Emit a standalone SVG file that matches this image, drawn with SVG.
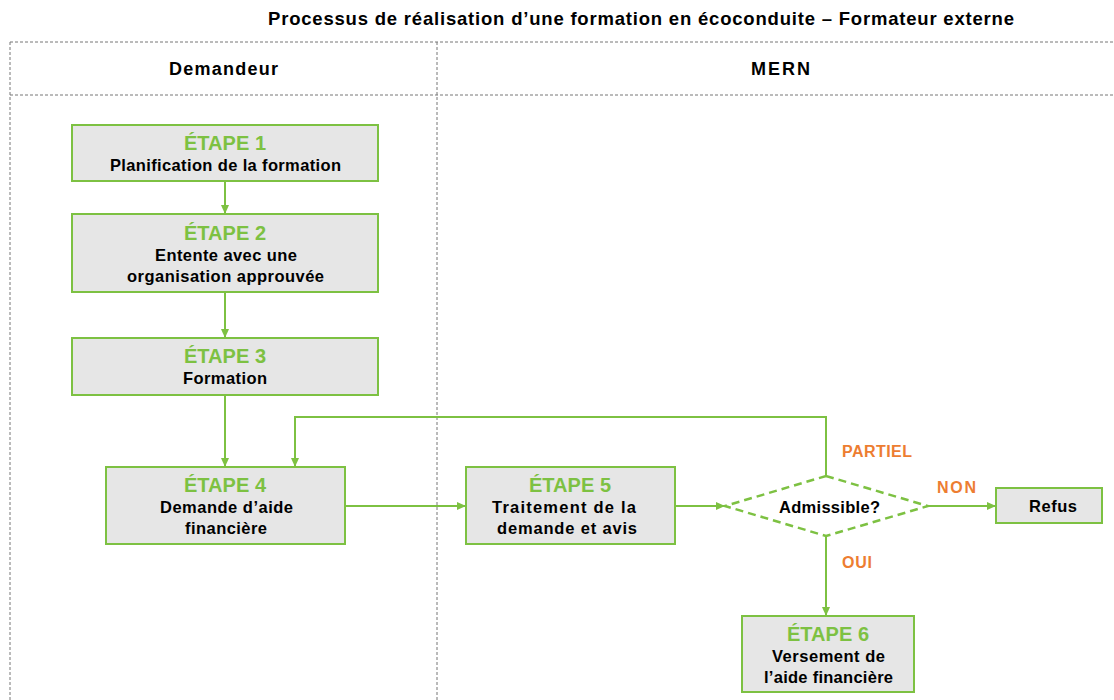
<svg xmlns="http://www.w3.org/2000/svg" width="1114" height="700" viewBox="0 0 1114 700">
<defs>
<style>
.frame{fill:none;stroke:#777;stroke-width:1;stroke-dasharray:3,2}
.box{fill:#e6e6e6;stroke:#7dc142;stroke-width:2}
.dia{fill:#fff;stroke:#7dc142;stroke-width:2.5;stroke-dasharray:8,5}
.con{fill:none;stroke:#7dc142;stroke-width:2}
text{font-family:"Liberation Sans",Arial,sans-serif;font-weight:bold;text-anchor:middle}
.t{font-size:18.5px;fill:#000}
.h{font-size:18px;fill:#000}
.s{font-size:20px;fill:#7dc142}
.b{font-size:16.5px;fill:#000}
.o{font-size:16px;fill:#ed7d31}
</style>
<marker id="ah" markerWidth="10" markerHeight="10" refX="8" refY="5" orient="auto" markerUnits="userSpaceOnUse">
<path d="M0,1 L9,5 L0,9 Z" fill="#7dc142"/>
</marker>
</defs>
<rect width="1114" height="700" fill="#fff"/>
<text class="t" x="641" y="25" textLength="746" lengthAdjust="spacing">Processus de réalisation d’une formation en écoconduite – Formateur externe</text>
<g id="frame">
<line class="frame" x1="10" y1="42" x2="1114" y2="42"/>
<line class="frame" x1="10" y1="95" x2="1114" y2="95"/>
<line class="frame" x1="10" y1="42" x2="10" y2="700"/>
<line class="frame" x1="437" y1="42" x2="437" y2="700"/>
<text class="h" x="223.5" y="75" textLength="109" lengthAdjust="spacing">Demandeur</text>
<text class="h" x="780.5" y="75" textLength="59" lengthAdjust="spacing">MERN</text>
</g>
<g id="connectors">
<line class="con" x1="225" y1="181" x2="225" y2="213" marker-end="url(#ah)"/>
<line class="con" x1="225" y1="292" x2="225" y2="337" marker-end="url(#ah)"/>
<line class="con" x1="225" y1="395" x2="225" y2="466" marker-end="url(#ah)"/>
<line class="con" x1="345" y1="506" x2="465" y2="506" marker-end="url(#ah)"/>
<line class="con" x1="675" y1="506" x2="724" y2="506" marker-end="url(#ah)"/>
<line class="con" x1="928" y1="506" x2="995" y2="506" marker-end="url(#ah)"/>
<line class="con" x1="826" y1="536" x2="826" y2="615" marker-end="url(#ah)"/>
<polyline class="con" points="826,476 826,417 295,417 295,466" marker-end="url(#ah)"/>
<text class="o" x="877" y="457" textLength="70" lengthAdjust="spacing">PARTIEL</text>
<text class="o" x="956.5" y="493" textLength="39" lengthAdjust="spacing">NON</text>
<text class="o" x="857" y="568" textLength="30" lengthAdjust="spacing">OUI</text>
</g>
<g id="step1">
<rect class="box" x="72" y="125" width="306" height="56"/>
<text class="s" x="225" y="150" textLength="82" lengthAdjust="spacing">ÉTAPE 1</text>
<text class="b" x="225.5" y="171" textLength="231" lengthAdjust="spacing">Planification de la formation</text>
</g>
<g id="step2">
<rect class="box" x="72" y="214" width="306" height="78"/>
<text class="s" x="225" y="240" textLength="82" lengthAdjust="spacing">ÉTAPE 2</text>
<text class="b" x="226" y="261" textLength="142" lengthAdjust="spacing">Entente avec une</text>
<text class="b" x="225.5" y="282" textLength="197" lengthAdjust="spacing">organisation approuvée</text>
</g>
<g id="step3">
<rect class="box" x="72" y="338" width="306" height="57"/>
<text class="s" x="225" y="363" textLength="82" lengthAdjust="spacing">ÉTAPE 3</text>
<text class="b" x="225" y="384" textLength="84" lengthAdjust="spacing">Formation</text>
</g>
<g id="step4">
<rect class="box" x="106" y="467" width="239" height="77"/>
<text class="s" x="225" y="492" textLength="82" lengthAdjust="spacing">ÉTAPE 4</text>
<text class="b" x="226.5" y="513" textLength="133" lengthAdjust="spacing">Demande d’aide</text>
<text class="b" x="226" y="534" textLength="82" lengthAdjust="spacing">financière</text>
</g>
<g id="step5">
<rect class="box" x="466" y="467" width="209" height="77"/>
<text class="s" x="570" y="492" textLength="82" lengthAdjust="spacing">ÉTAPE 5</text>
<text class="b" x="564" y="513" textLength="144" lengthAdjust="spacing">Traitement de la</text>
<text class="b" x="567" y="534" textLength="140" lengthAdjust="spacing">demande et avis</text>
</g>
<g id="decision">
<polygon class="dia" points="826,476 928,506 826,536 725,506"/>
<text class="b" x="829.5" y="513" textLength="101" lengthAdjust="spacing">Admissible?</text>
</g>
<g id="refus">
<rect class="box" x="996" y="488" width="106" height="35"/>
<text class="b" x="1053" y="512" textLength="48" lengthAdjust="spacing">Refus</text>
</g>
<g id="step6">
<rect class="box" x="742" y="616" width="172" height="76"/>
<text class="s" x="828" y="641" textLength="82" lengthAdjust="spacing">ÉTAPE 6</text>
<text class="b" x="828.5" y="662" textLength="113" lengthAdjust="spacing">Versement de</text>
<text class="b" x="828.5" y="683" textLength="129" lengthAdjust="spacing">l’aide financière</text>
</g>
</svg>
